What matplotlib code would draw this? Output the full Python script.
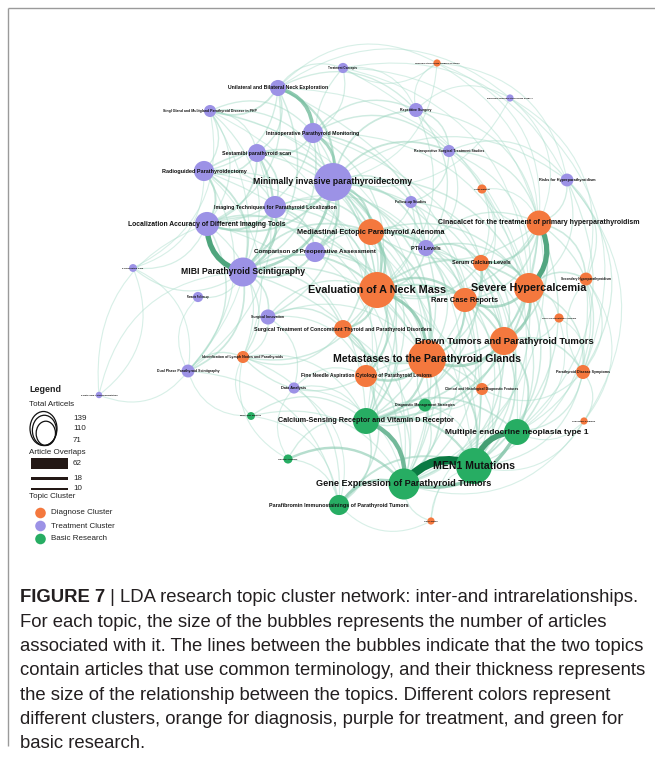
import numpy as np
import matplotlib
matplotlib.use("Agg")
import matplotlib.pyplot as plt
from matplotlib.path import Path
from matplotlib.patches import PathPatch, Circle, Ellipse, Rectangle
from matplotlib.colors import to_rgb

# topics: key, label, cluster, number of articles
keys = ["TC", "UB", "SG", "IO", "SS", "RG", "MIP", "IT", "LA", "CP", "MIBI", "PC", "RS", "SI",
        "DP", "AT", "DA", "RP", "RT", "RH", "FU", "RK", "PTH",
        "HI", "LD", "CIN", "MED", "SCL", "SHP", "NECK", "SEV", "RARE", "CPA", "CONC", "BROWN",
        "META", "LYMPH", "FNA", "SYMP", "CHF", "LF", "CS",
        "DMS", "MM", "CASR", "MEN", "GA", "MEN1", "GENE", "PARA"]
labels = ["Treatment Concepts", "Unilateral and Bilateral Neck Exploration",
          "Singl Gland and Multigland Parathyroid Disease in PHP", "Intraoperative Parathyroid Monitoring",
          "Sestamibi parathyroid scan", "Radioguided Parathyroidectomy", "Minimally invasive parathyroidectomy",
          "Imaging Techniques for Parathyroid Localization", "Localization Accuracy of Different Imaging Tools",
          "Comparison of Preoperative Assessment", "MIBI Parathyroid Scintigraphy", "Perioperative Care",
          "Remote Follow-up", "Surgical Innovation", "Dual Phase Parathyroid Scintigraphy",
          "Parathyroid Autotransplantation", "Data Analysis", "Repetitive Surgery",
          "Retrospective Surgical Treatment Studies", "Recurrent Hyperparathyroidism Surgery",
          "Follow-up Studies", "Risks for Hyperparathyroidism", "PTH Levels",
          "Hyperparathyroidism Imaging Features", "Large Dataset",
          "Cinacalcet for the treatment of primary hyperparathyroidism",
          "Mediastinal Ectopic Parathyroid Adenoma", "Serum Calcium Levels", "Secondary Hyperparathyroidism",
          "Evaluation of A Neck Mass", "Severe Hypercalcemia", "Rare Case Reports",
          "Clinical Presentation Analysis",
          "Surgical Treatment of Concomitant Thyroid and Parathyroid Disorders",
          "Brown Tumors and Parathyroid Tumors", "Metastases to the Parathyroid Glands",
          "Identification of Lymph Nodes and Parathyroids",
          "Fine Needle Aspiration Cytology of Parathyroid Lesions", "Parathyroid Disease Symptoms",
          "Clinical and Histological Diagnostic Features", "Laboratory Findings", "Case Series",
          "Diagnostic Management Strategies", "Molecular Markers",
          "Calcium-Sensing Receptor and Vitamin D Receptor", "Multiple endocrine neoplasia type 1",
          "Genetic Analysis", "MEN1 Mutations", "Gene Expression of Parathyroid Tumors",
          "Parafibromin Immunostainings of Parathyroid Tumors"]
clusters = ["T"] * 23 + ["D"] * 19 + ["B"] * 8
articles = [10, 25, 14, 39, 31, 39, 139, 47, 56, 39, 81, 6, 10, 22, 16, 4, 12, 19, 14, 5, 14, 16, 25,
            5, 8, 60, 65, 25, 16, 125, 87, 56, 8, 31, 76, 139, 14, 47, 19, 14, 5, 5,
            16, 6, 65, 65, 8, 125, 93, 39]

# article overlaps between topics
edges = [
    ("UB", "IO", 22), ("UB", "MIP", 10), ("UB", "SG", 6), ("UB", "SS", 4), ("UB", "TC", 2), ("UB", "RP", 3),
    ("UB", "LA", 3), ("UB", "RG", 3), ("UB", "MIBI", 4),
    ("SG", "IO", 3), ("SG", "RG", 3), ("SG", "MIP", 3), ("SG", "NECK", 2), ("SG", "SS", 2),
    ("IO", "MIP", 16), ("IO", "SS", 5), ("IO", "RP", 4), ("IO", "RT", 4), ("IO", "PTH", 5), ("IO", "CP", 3),
    ("IO", "MIBI", 4), ("IO", "LA", 3),
    ("SS", "MIBI", 10), ("SS", "RG", 5), ("SS", "LA", 6), ("SS", "IT", 6), ("SS", "MIP", 6),
    ("RG", "LA", 8), ("RG", "MIBI", 7), ("RG", "MIP", 5), ("RG", "IT", 3), ("RG", "PC", 1),
    ("MIP", "IT", 9), ("MIP", "CP", 9), ("MIP", "MIBI", 14), ("MIP", "LA", 8), ("MIP", "RP", 6),
    ("MIP", "RT", 7), ("MIP", "FU", 4), ("MIP", "PTH", 6), ("MIP", "MED", 10), ("MIP", "NECK", 12),
    ("MIP", "SI", 4), ("MIP", "CONC", 5), ("MIP", "TC", 2), ("MIP", "RK", 2),
    ("IT", "LA", 10), ("IT", "MIBI", 12), ("IT", "CP", 6), ("IT", "MED", 5),
    ("MIBI", "LA", 36), ("LA", "CP", 5), ("LA", "DP", 4), ("LA", "PC", 2), ("LA", "NECK", 4),
    ("CP", "MIBI", 8), ("CP", "NECK", 6), ("CP", "MED", 6), ("CP", "PTH", 3),
    ("MIBI", "DP", 6), ("MIBI", "SI", 5), ("MIBI", "RS", 2), ("MIBI", "NECK", 8), ("MIBI", "MED", 6),
    ("MIBI", "LYMPH", 3), ("MIBI", "PC", 2), ("MIBI", "CONC", 4), ("MIBI", "META", 4),
    ("SI", "CONC", 4), ("SI", "NECK", 3), ("SI", "DA", 2),
    ("DP", "LYMPH", 3), ("DP", "AT", 1), ("DP", "RS", 1),
    ("DA", "FNA", 2), ("DA", "CASR", 2),
    ("RP", "RT", 4), ("RP", "HI", 1), ("RP", "RH", 1), ("RP", "PTH", 3),
    ("RT", "FU", 3), ("RT", "CIN", 3), ("RT", "RK", 2), ("RT", "SCL", 2),
    ("FU", "SCL", 3), ("FU", "NECK", 2),
    ("RK", "CIN", 3), ("RK", "SEV", 2), ("RK", "SHP", 2),
    ("PTH", "SCL", 7), ("PTH", "NECK", 5), ("PTH", "SEV", 4), ("PTH", "RARE", 3), ("PTH", "CIN", 3),
    ("RH", "MIP", 1), ("RH", "CIN", 1), ("TC", "IO", 2), ("TC", "RP", 1),
    ("CIN", "SEV", 35), ("CIN", "SCL", 9), ("CIN", "BROWN", 6), ("CIN", "SHP", 5), ("CIN", "LD", 2),
    ("CIN", "RARE", 5), ("CIN", "NECK", 4), ("CIN", "SYMP", 3), ("CIN", "MED", 3),
    ("MED", "NECK", 12), ("MED", "RARE", 6), ("MED", "META", 7), ("MED", "CONC", 4), ("MED", "PTH", 4),
    ("SCL", "SEV", 10), ("SCL", "RARE", 6), ("SCL", "NECK", 5),
    ("NECK", "META", 18), ("NECK", "RARE", 12), ("NECK", "CONC", 10), ("NECK", "FNA", 9),
    ("NECK", "BROWN", 8), ("NECK", "SEV", 7), ("NECK", "LYMPH", 4),
    ("SEV", "BROWN", 15), ("SEV", "RARE", 14), ("SEV", "SHP", 5), ("SEV", "META", 6), ("SEV", "SYMP", 4),
    ("SEV", "CPA", 2),
    ("RARE", "BROWN", 10), ("RARE", "META", 9), ("RARE", "FNA", 3),
    ("BROWN", "META", 15), ("BROWN", "SYMP", 5), ("BROWN", "CHF", 4),
    ("META", "FNA", 12), ("META", "CONC", 7), ("META", "CHF", 5),
    ("CONC", "FNA", 5), ("CONC", "LYMPH", 3), ("FNA", "LYMPH", 3), ("FNA", "CHF", 3),
    ("SYMP", "LF", 2), ("SYMP", "SHP", 2), ("LD", "SCL", 1), ("HI", "MIP", 1), ("HI", "CIN", 1), ("HI", "TC", 1),
    ("GENE", "MEN1", 62), ("MEN1", "MEN", 40), ("CASR", "GENE", 28), ("MEN", "GENE", 20), ("PARA", "GENE", 14),
    ("GA", "GENE", 12), ("PARA", "MEN1", 8), ("CASR", "MEN1", 10), ("CASR", "MEN", 6), ("CASR", "PARA", 5),
    ("DMS", "CASR", 4), ("DMS", "GENE", 3), ("MM", "CASR", 3), ("MM", "GENE", 2), ("GA", "CASR", 3),
    ("CS", "GENE", 2), ("CS", "MEN1", 1),
    ("META", "CASR", 10), ("META", "MEN1", 8), ("META", "GENE", 6), ("BROWN", "MEN", 8), ("BROWN", "MEN1", 6),
    ("SEV", "CASR", 8), ("SEV", "MEN", 5), ("CIN", "CASR", 6), ("NECK", "CASR", 5), ("FNA", "PARA", 4),
    ("CHF", "MEN1", 3), ("CHF", "DMS", 2), ("SYMP", "MEN", 3), ("LF", "MEN", 1), ("CONC", "CASR", 3),
    ("RARE", "MEN1", 4), ("MED", "GENE", 3), ("SCL", "CASR", 5), ("PTH", "CASR", 4), ("MIP", "CASR", 4),
    ("MIBI", "GENE", 3), ("LA", "CASR", 2), ("LYMPH", "CASR", 2), ("DP", "PARA", 2), ("MIP", "MEN1", 3),
    ("IO", "MEN", 2), ("UB", "MEN1", 2), ("SG", "CASR", 1), ("RG", "GENE", 2), ("TC", "SEV", 1),
    ("RK", "MEN", 2), ("SHP", "MEN1", 2), ("MM", "DP", 1), ("GA", "DA", 1),
    ("TC", "CIN", 1), ("TC", "RK", 1), ("HI", "RK", 1), ("HI", "SEV", 1), ("RH", "SHP", 1), ("RH", "SYMP", 1),
    ("SG", "LA", 2), ("SG", "MIBI", 2), ("SG", "DP", 1), ("SG", "PC", 1), ("UB", "RH", 1), ("UB", "HI", 1),
    ("RG", "DP", 2), ("RG", "LYMPH", 1), ("PC", "DP", 1), ("PC", "AT", 1), ("AT", "LA", 1), ("AT", "MIBI", 1),
    ("RK", "SYMP", 2), ("RK", "LF", 1), ("SHP", "SYMP", 2), ("SHP", "LF", 1), ("CPA", "BROWN", 2),
    ("CPA", "SYMP", 1), ("LF", "MEN1", 1), ("CS", "PARA", 1), ("CS", "MEN", 1), ("GA", "PARA", 2),
    ("GA", "LYMPH", 1), ("MM", "LYMPH", 1), ("MM", "PARA", 1), ("DA", "PARA", 1), ("DA", "GENE", 1),
    ("DMS", "MEN1", 2), ("DMS", "FNA", 2), ("DMS", "META", 2), ("LD", "CIN", 1), ("LD", "RARE", 1),
    ("FU", "PTH", 2), ("FU", "MED", 2), ("RT", "PTH", 2), ("RT", "SEV", 2), ("RP", "CIN", 2), ("RP", "NECK", 2),
    ("IO", "NECK", 3), ("IO", "SEV", 2), ("SS", "NECK", 3), ("SS", "DP", 2), ("IT", "NECK", 4), ("IT", "PTH", 2),
    ("RG", "NECK", 2), ("LA", "LYMPH", 2), ("LA", "META", 3), ("CP", "META", 3), ("CP", "CASR", 2),
    ("SI", "LYMPH", 2), ("SI", "FNA", 2), ("SI", "META", 2), ("MIP", "SEV", 4), ("MIP", "RARE", 3),
    ("MIP", "BROWN", 3), ("MIP", "META", 5), ("MIP", "FNA", 3), ("MIP", "GENE", 2), ("UB", "SEV", 1),
    ("SG", "META", 1), ("RG", "MEN1", 1), ("TC", "MEN", 1), ("CIN", "MEN1", 3), ("CIN", "GENE", 2),
    ("SEV", "GENE", 3), ("SEV", "MEN1", 4), ("BROWN", "GENE", 4), ("BROWN", "CASR", 4), ("RARE", "CASR", 3),
    ("RARE", "GENE", 3), ("NECK", "MEN1", 3), ("NECK", "GENE", 3), ("MED", "CASR", 3), ("CONC", "GENE", 2),
    ("FNA", "GENE", 3), ("FNA", "CASR", 3), ("LYMPH", "PARA", 2), ("SYMP", "MEN1", 2), ("CHF", "GENE", 2),
    ("SCL", "MEN1", 3), ("PTH", "MEN1", 2), ("PTH", "GENE", 2), ("SCL", "MEN", 3), ("SHP", "MEN", 2),
    ("CPA", "MEN", 1), ("LF", "GENE", 1), ("SYMP", "CHF", 2), ("SCL", "BROWN", 4), ("SCL", "META", 4),
    ("MED", "SEV", 4), ("MED", "BROWN", 3), ("MED", "FNA", 3), ("PTH", "META", 3), ("PTH", "BROWN", 3),
]

legend_articles = [139, 110, 71]
legend_overlaps = [62, 18, 10]
legend_clusters = ["Diagnose Cluster", "Treatment Cluster", "Basic Research"]

caption = [
    "LDA research topic cluster network: inter-and intrarelationships.",
    "For each topic, the size of the bubbles represents the number of articles",
    "associated with it. The lines between the bubbles indicate that the two topics",
    "contain articles that use common terminology, and their thickness represents",
    "the size of the relationship between the topics. Different colors represent",
    "different clusters, orange for diagnosis, purple for treatment, and green for",
    "basic research.",
]

# node placement (pixels) and label size (pt)
layout = {
    "TC": (343, 68, 2.2), "UB": (278, 88, 3.7), "SG": (210, 111, 2.5), "IO": (313, 133, 3.7),
    "SS": (257, 153, 3.8), "RG": (204, 171, 4.0), "MIP": (333, 182, 6.3), "IT": (275, 207, 3.8),
    "LA": (207, 224, 4.9), "CP": (315, 252, 4.5), "MIBI": (243, 272, 6.2), "PC": (133, 268, 1.7),
    "RS": (198, 297, 1.8), "SI": (268, 317, 2.5), "DP": (188, 371, 2.5), "AT": (99, 395, 1.7),
    "DA": (294, 388, 2.8), "RP": (416, 110, 2.5), "RT": (449, 151, 2.5), "RH": (510, 98, 1.7),
    "FU": (411, 202, 2.6), "RK": (567, 180, 2.8), "PTH": (426, 248, 4.0),
    "HI": (437, 63, 1.7), "LD": (482, 189, 1.7), "CIN": (539, 223, 5.0), "MED": (371, 232, 5.3),
    "SCL": (481, 263, 4.0), "SHP": (586, 279, 2.3), "NECK": (377, 290, 7.8), "SEV": (529, 288, 7.8),
    "RARE": (465, 300, 5.4), "CPA": (559, 318, 1.7), "CONC": (343, 329, 3.8), "BROWN": (504, 341, 6.8),
    "META": (427, 359, 7.6), "LYMPH": (243, 357, 2.5), "FNA": (366, 376, 3.5), "SYMP": (583, 372, 2.6),
    "CHF": (482, 389, 2.4), "LF": (584, 421, 1.7), "CS": (431, 521, 1.7),
    "DMS": (425, 405, 2.6), "MM": (251, 416, 1.7), "CASR": (366, 421, 5.2), "MEN": (517, 432, 6.0),
    "GA": (288, 459, 1.7), "MEN1": (474, 466, 7.6), "GENE": (404, 484, 6.6), "PARA": (339, 505, 3.9),
}

colors = {"D": "#f4783e", "T": "#9c92e6", "B": "#27ad63"}
W, H = 655, 766
PT = 72 / 100  # points per pixel

fig = plt.figure(figsize=(W / 100, H / 100), dpi=100)
ax = fig.add_axes([0, 0, 1, 1])
ax.set_xlim(0, W)
ax.set_ylim(H, 0)
ax.axis("off")

light = np.array(to_rgb("#aee0ce"))
dark = np.array(to_rgb("#0b7a43"))
wmax = max(e[2] for e in edges)

# curved edges, bent to one side of the source->target direction
for a, b, w in sorted(edges, key=lambda e: e[2]):
    x0, y0 = layout[a][:2]
    x1, y1 = layout[b][:2]
    dx, dy = x1 - x0, y1 - y0
    cx = (x0 + x1) / 2 + 0.38 * dy
    cy = (y0 + y1) / 2 - 0.38 * dx
    t = w / wmax
    col = light * (1 - t) + dark * t
    alpha = min(1.0, 0.45 + 1.0 * t)
    path = Path([(x0, y0), (cx, cy), (x1, y1)], [Path.MOVETO, Path.CURVE3, Path.CURVE3])
    ax.add_patch(PathPatch(path, fill=False, edgecolor=col, alpha=alpha,
                           lw=(1.0 + 0.12 * w) * PT, capstyle="round", zorder=1))

for k, lab, c, n in zip(keys, labels, clusters, articles):
    x, y, fs = layout[k]
    r = 1.61 * np.sqrt(n)
    ax.add_patch(Circle((x, y), r, facecolor=colors[c], edgecolor="none", zorder=3))
    ax.text(x, y, lab, ha="center", va="center", fontsize=fs, fontweight="bold",
            family="Liberation Sans", color="#111111", zorder=4)

# legend
lf = "Liberation Sans"
lfs = 5.8
ax.text(29, 389, "Legend", fontsize=6.4, fontweight="bold", family=lf, va="center", color="#222222")
ax.text(29, 405, "Total Articels", fontsize=lfs, family=lf, va="center", color="#222222")
for v, ty in zip(legend_articles, [418, 429, 440]):
    s = np.sqrt(v / legend_articles[0])
    h, w = 34 * s, 27 * s
    ax.add_patch(Ellipse((43.5 + (27 - w) * 0.3, 445.5 - h / 2), w, h, fill=False,
                         edgecolor="#111111", lw=0.9, zorder=5))
    ax.text(73, ty, str(v), fontsize=lfs, family=lf, va="center", color="#222222")
ax.text(29, 452, "Article Overlaps", fontsize=lfs, family=lf, va="center", color="#222222")
for v, ty in zip(legend_overlaps, [463.5, 478.5, 489]):
    h = 0.185 * v
    ax.add_patch(Rectangle((31, ty - h / 2), 37, h, facecolor="#231815", edgecolor="none", zorder=5))
    ax.text(73, ty, str(v), fontsize=lfs, family=lf, va="center", color="#222222")
ax.text(29, 497, "Topic Cluster", fontsize=lfs, family=lf, va="center", color="#222222")
for lab, c, ty in zip(legend_clusters, ["D", "T", "B"], [513, 526, 539]):
    ax.add_patch(Circle((40.5, ty), 5.3, facecolor=colors[c], edgecolor="none", zorder=5))
    ax.text(51, ty, lab, fontsize=lfs, family=lf, va="center", color="#222222")

# frame
ax.plot([8, 8], [8, 746], color="#9a9a9a", lw=1.0, solid_capstyle="butt")
ax.plot([8, W], [8, 8], color="#9a9a9a", lw=1.0, solid_capstyle="butt")

# caption
cap_fs = 13.3
y0 = 598
t0 = ax.text(20, y0, "FIGURE 7", fontsize=cap_fs, fontweight="bold", family=lf, va="center",
             color="#231f20")
fig.canvas.draw()
bb = t0.get_window_extent()
ax.text(20 + bb.width, y0, " | " + caption[0], fontsize=cap_fs, family=lf, va="center", color="#231f20")
for i, line in enumerate(caption[1:], start=1):
    ax.text(20, y0 + i * 24.3, line, fontsize=cap_fs, family=lf, va="center", color="#231f20")

fig.savefig("out.png", dpi=100)
